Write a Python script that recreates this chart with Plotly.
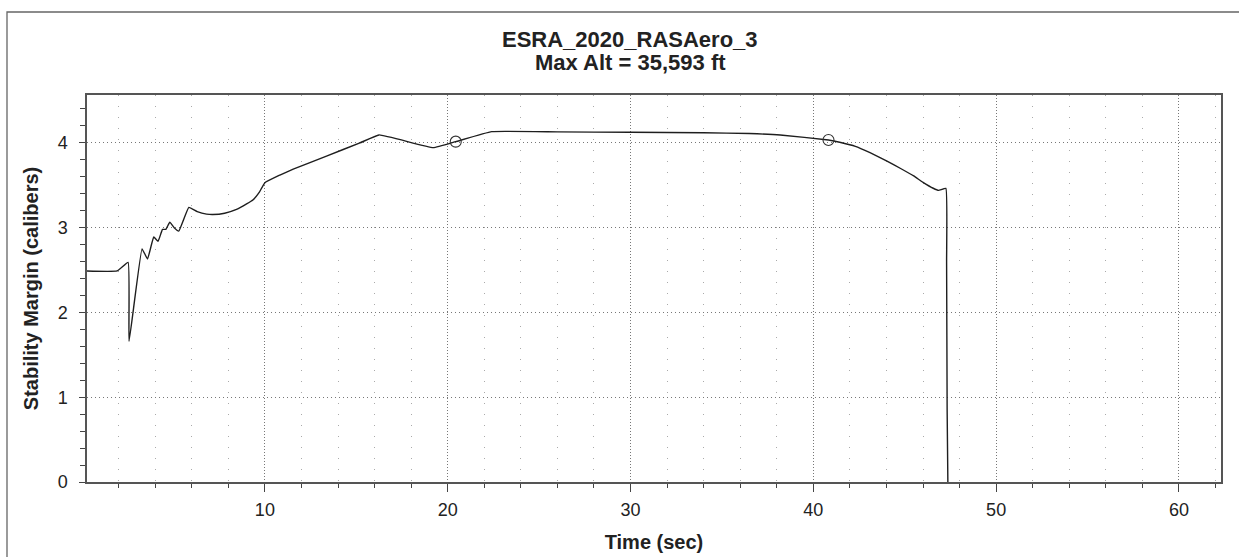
import plotly.graph_objects as go

# Stability margin vs time
time_s = [0.0, 1.92, 2.52, 2.57, 3.28, 3.58, 3.92, 4.16, 4.40, 4.58, 4.80, 5.04, 5.29,
          5.84, 6.3, 6.81, 7.15, 7.8, 8.45, 9.0, 9.36, 9.7, 10.0, 10.82, 11.55, 13.37,
          15.2, 16.24, 19.21, 20.44, 22.41, 26.0, 30.0, 34.0, 36.5, 38.19, 40.83, 41.5,
          42.3, 43.1, 44.03, 44.8, 45.49, 46.0, 46.56, 46.85, 47.25, 47.29, 47.32, 47.36]
stability = [2.49, 2.49, 2.59, 1.66, 2.75, 2.63, 2.89, 2.84, 2.98, 2.98, 3.065, 3.0, 2.96,
             3.24, 3.19, 3.16, 3.155, 3.17, 3.215, 3.28, 3.33, 3.42, 3.53, 3.62, 3.69, 3.845,
             4.0, 4.094, 3.944, 4.015, 4.133, 4.13, 4.125, 4.12, 4.11, 4.094, 4.034, 4.005,
             3.96, 3.885, 3.786, 3.695, 3.61, 3.535, 3.465, 3.44, 3.463, 2.6, 0.85, 0.0]

# Event markers (open circles)
event_t = [20.44, 40.83]
event_v = [4.015, 4.034]

title_lines = ["ESRA_2020_RASAero_3", "Max Alt = 35,593 ft"]
x_title = "Time (sec)"
y_title = "Stability Margin (calibers)"

W, H = 1239, 557
L, R, T, B = 87, 18, 95, 75

fig = go.Figure()
fig.add_trace(go.Scatter(x=time_s, y=stability, mode="lines",
                         line=dict(color="#1e1e1e", width=1.4, shape="spline", smoothing=0.3),
                         hoverinfo="x+y", showlegend=False))
fig.add_trace(go.Scatter(x=event_t, y=event_v, mode="markers",
                         marker=dict(symbol="circle-open", size=11, color="#333333",
                                     line=dict(color="#333333", width=1.1)),
                         showlegend=False))

font_family = "Liberation Sans, Arial, sans-serif"
pw, ph = W - L - R, H - T - B

fig.update_layout(
    width=W, height=H,
    margin=dict(l=L, r=R, t=T, b=B, autoexpand=False),
    paper_bgcolor="white", plot_bgcolor="white",
    font=dict(family=font_family, color="#222222"),
    xaxis=dict(
        range=[0.27, 62.3], tickmode="linear", tick0=0, dtick=10,
        showline=True, linecolor="#555555", linewidth=1.5, mirror=True,
        ticks="outside", ticklen=8, tickwidth=1.3, tickcolor="#444444",
        tickfont=dict(size=18), ticklabelstandoff=3, showgrid=True, gridcolor="#777777",
        griddash="1px,2px", gridwidth=1, zeroline=False,
        minor=dict(dtick=2, tick0=0, ticks="outside", ticklen=4, tickwidth=1,
                   tickcolor="#444444", showgrid=True, gridcolor="#aaaaaa",
                   griddash="1px,10px", gridwidth=1),
        title=dict(text="<b>" + x_title + "</b>", font=dict(size=20), standoff=16),
    ),
    yaxis=dict(
        range=[0, 4.565], tickmode="linear", tick0=0, dtick=1,
        showline=True, linecolor="#555555", linewidth=1.5, mirror=True,
        ticks="outside", ticklen=6, tickwidth=1.3, tickcolor="#444444",
        tickfont=dict(size=18), ticklabelstandoff=8, showgrid=True, gridcolor="#777777",
        griddash="1px,3px", gridwidth=1, zeroline=False,
        minor=dict(dtick=0.2, tick0=0, ticks="outside", ticklen=5, tickwidth=1,
                   tickcolor="#444444", showgrid=False),
        title=dict(text="<b>" + y_title + "</b>", font=dict(size=20), standoff=14),
    ),
)

# two-line title as annotations for precise placement
for txt, yc in zip(title_lines, [40, 62]):
    fig.add_annotation(text="<b>" + txt + "</b>", xref="paper", yref="paper",
                       x=(630 - L) / pw, y=((H - B) - yc) / ph,
                       xanchor="center", yanchor="middle", showarrow=False,
                       font=dict(size=22, family=font_family, color="#222222"))

# outer frame of the picture
fig.add_shape(type="rect", xref="paper", yref="paper",
              x0=(7 - L) / pw, x1=(W + 10 - L) / pw,
              y0=-(H + 10 - (H - B)) / ph, y1=((H - B) - 12) / ph,
              line=dict(color="#666666", width=1.3), layer="below")

fig.write_html("out.html", config={"displayModeBar": False},
               post_script="document.body.style.margin='0';")
